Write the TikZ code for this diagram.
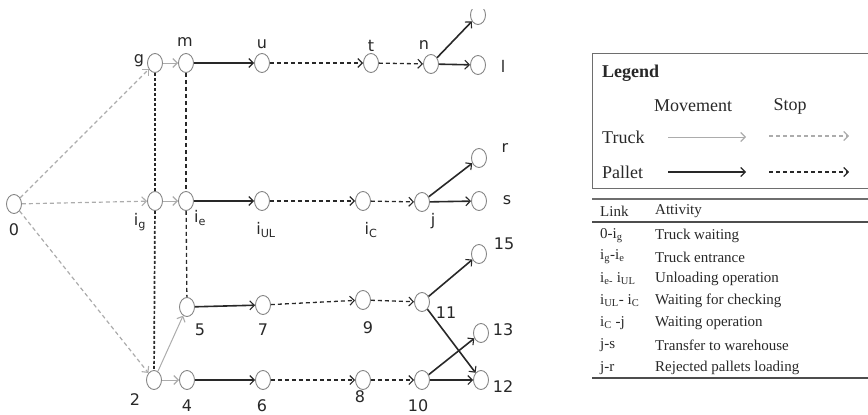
\documentclass[tikz,border=0pt]{standalone}
\usepackage{fontspec}
\setmainfont{Liberation Serif}
\newfontfamily\lab{DejaVu Sans}
\usetikzlibrary{shapes.geometric,arrows.meta}
\definecolor{nodec}{RGB}{135,135,135}
\definecolor{truckc}{RGB}{172,172,172}
\definecolor{palc}{RGB}{40,40,40}
\definecolor{labc}{RGB}{40,40,40}
\definecolor{framec}{RGB}{110,110,110}
\tikzset{
  ev/.style={ellipse, draw=nodec, line width=0.9pt, fill=white, minimum width=15pt, minimum height=19pt, inner sep=0pt},
  lbl/.style={font=\lab\fontsize{16}{16}\selectfont, text=labc, inner sep=0pt},
  tiptop/.style={-{Straight Barb[length=4.5pt,width=9pt,line width=1.1pt]}},
  tmove/.style={draw=truckc, line width=1pt, tiptop},
  tstop/.style={draw=truckc, line width=1.2pt, dash pattern=on 4pt off 3pt, tiptop},
  pmove/.style={draw=palc, line width=1.6pt, tiptop},
  pstop/.style={draw=palc, line width=1.3pt, dash pattern=on 4pt off 3pt, tiptop},
  vlineg/.style={draw=palc, line width=1.7pt, dash pattern=on 3pt off 2pt},
  vlinem/.style={draw=palc, line width=1.3pt, dash pattern=on 4pt off 3pt},
  legt/.style={font=\fontsize{18}{18}\selectfont, text=labc, inner sep=0pt},
  tabt/.style={font=\fontsize{15}{15}\selectfont, text=labc, inner sep=0pt, anchor=west},
}
\begin{document}
\begin{tikzpicture}[x=1pt,y=-1pt]
\useasboundingbox (0,0) rectangle (868,415);
\clip (0,0) rectangle (868,415);
% nodes row 1
\node[ev] (g) at (155,63) {};
\node[ev] (m) at (186,63) {};
\node[ev] (u) at (262,63) {};
\node[ev] (t) at (371,63) {};
\node[ev] (n) at (431,64) {};
\node[ev] (l) at (478,65) {};
\begin{scope}
\clip (0,9) rectangle (868,415);
\node[ev] (tp) at (478,15) {};
\node[lbl] (ltp) at (500,5) {r};
\end{scope}
% row 2
\node[ev] (o) at (14,204) {};
\node[ev] (ig) at (155,201) {};
\node[ev] (ie) at (186,201) {};
\node[ev] (iul) at (262,201) {};
\node[ev] (ic) at (363,201) {};
\node[ev] (j) at (422,202) {};
\node[ev] (s) at (479,201) {};
\node[ev] (r) at (479,158) {};
% row 3
\node[ev] (n5) at (187,307) {};
\node[ev] (n7) at (263,305) {};
\node[ev] (n9) at (363,300) {};
\node[ev] (n11) at (422,302) {};
\node[ev] (n15) at (479,254) {};
% row 4
\node[ev] (n2) at (154,380) {};
\node[ev] (n4) at (187,380) {};
\node[ev] (n6) at (263,380) {};
\node[ev] (n8) at (363,380) {};
\node[ev] (n10) at (422,380) {};
\node[ev] (n13) at (481,333) {};
\node[ev] (n12) at (481,380) {};
% labels
\node[lbl] (lg) at (139,61) {g};
\node[lbl] (lm) at (185,42) {m};
\node[lbl] (lu) at (262,44) {u};
\node[lbl] (lt) at (371,46) {t};
\node[lbl] (ln) at (424,45) {n};
\node[lbl] (ll) at (503,66) {l};
\node[lbl] (l0) at (14,230) {0};
\node[lbl] (lig) at (140,222) {i\textsubscript{g}};
\node[lbl] (lie) at (200,218) {i\textsubscript{e}};
\node[lbl] (liul) at (266,230) {i\textsubscript{UL}};
\node[lbl] (lic) at (371,230) {i\textsubscript{C}};
\node[lbl] (lj) at (433,221) {j};
\node[lbl] (ls) at (507,200) {s};
\node[lbl] (lr) at (505,148) {r};
\node[lbl] (l5) at (200,330) {5};
\node[lbl] (l7) at (263,330) {7};
\node[lbl] (l9) at (368,328) {9};
\node[lbl] (l11) at (446,313) {11};
\node[lbl] (l15) at (504,244) {15};
\node[lbl] (l2) at (135,400) {2};
\node[lbl] (l4) at (187,406) {4};
\node[lbl] (l6) at (262,406) {6};
\node[lbl] (l8) at (360,397) {8};
\node[lbl] (l10) at (418,406) {10};
\node[lbl] (l13) at (503,330) {13};
\node[lbl] (l12) at (503,387) {12};
% vertical lines
\draw[vlineg] (g) -- (ig);
\draw[vlineg] (ig) -- (n2);
\draw[vlinem] (m) -- (ie);
\draw[vlinem] (ie) -- (n5);
% truck stop
\draw[tstop] (o) -- (g);
\draw[tstop] (o) -- (ig);
\draw[tstop] (o) -- (n2);
% truck movement
\draw[tmove] (g) -- (m);
\draw[tmove] (ig) -- (ie);
\draw[tmove] (n2) -- (n4);
\draw[tmove] (n2) -- (n5);
% pallet movement
\draw[pmove] (m) -- (u);
\draw[pmove] (ie) -- (iul);
\draw[pmove] (n5) -- (n7);
\draw[pmove] (n4) -- (n6);
\draw[pmove] (n) -- (l);
\draw[pmove] (n) -- (tp);
\draw[pmove] (j) -- (s);
\draw[pmove] (j) -- (r);
\draw[pmove] (n11) -- (n15);
\draw[pmove] (n11) -- (n12);
\draw[pmove] (n10) -- (n12);
\draw[pmove] (n10) -- (n13);
% pallet stop
\draw[pstop] (u) -- (t);
\draw[pstop] (t) -- (n);
\draw[pstop] (iul) -- (ic);
\draw[pstop] (ic) -- (j);
\draw[pstop] (n7) -- (n9);
\draw[pstop] (n9) -- (n11);
\draw[pstop] (n6) -- (n8);
\draw[pstop] (n8) -- (n10);
% legend
\draw[framec, line width=1pt] (872,53) -- (592,53) -- (592,188) -- (872,188);
\node[legt, anchor=west, font=\bfseries\fontsize{18}{18}\selectfont] (legt) at (602,73) {Legend};
\node[legt] (mov) at (693,106) {Movement};
\node[legt] (stp) at (790,106) {Stop};
\node[legt, anchor=west] (trk) at (602,137) {Truck};
\node[legt, anchor=west] (pal) at (602,172) {Pallet};
\coordinate (a1) at (668,137); \coordinate (a2) at (746,137);
\coordinate (b1) at (769,136); \coordinate (b2) at (849,136);
\coordinate (c1) at (668,172); \coordinate (c2) at (746,172);
\coordinate (d1) at (769,172); \coordinate (d2) at (849,172);
\draw[tmove] (a1) -- (a2);
\draw[tstop] (b1) -- (b2);
\draw[pmove] (c1) -- (c2);
\draw[pstop] (d1) -- (d2);
% table
\coordinate (t1a) at (592,199); \coordinate (t1b) at (872,199);
\coordinate (t2a) at (592,222); \coordinate (t2b) at (872,222);
\coordinate (t3a) at (592,378); \coordinate (t3b) at (872,378);
\draw[framec, line width=1.1pt] (t1a) -- (t1b);
\draw[framec!70!black, line width=1.8pt] (t2a) -- (t2b);
\draw[framec!70!black, line width=2pt] (t3a) -- (t3b);
\node[tabt] (hl) at (600,211) {Link};
\node[tabt] (ha) at (655,211) {Attivity};
\node[tabt] (k1) at (600,236) {0-i\textsubscript{g}};
\node[tabt] (v1) at (655,236) {Truck waiting};
\node[tabt] (k2) at (600,257) {i\textsubscript{g}-i\textsubscript{e}};
\node[tabt] (v2) at (655,257) {Truck entrance};
\node[tabt] (k3) at (600,279) {i\textsubscript{e-} i\textsubscript{UL}};
\node[tabt] (v3) at (655,279) {Unloading operation};
\node[tabt] (k4) at (600,301) {i\textsubscript{UL}- i\textsubscript{C}};
\node[tabt] (v4) at (655,301) {Waiting for checking};
\node[tabt] (k5) at (600,323) {i\textsubscript{C} -j};
\node[tabt] (v5) at (655,323) {Waiting operation};
\node[tabt] (k6) at (600,345) {j-s};
\node[tabt] (v6) at (655,345) {Transfer to warehouse};
\node[tabt] (k7) at (600,368) {j-r};
\node[tabt] (v7) at (655,368) {Rejected pallets loading};
\end{tikzpicture}
\end{document}
